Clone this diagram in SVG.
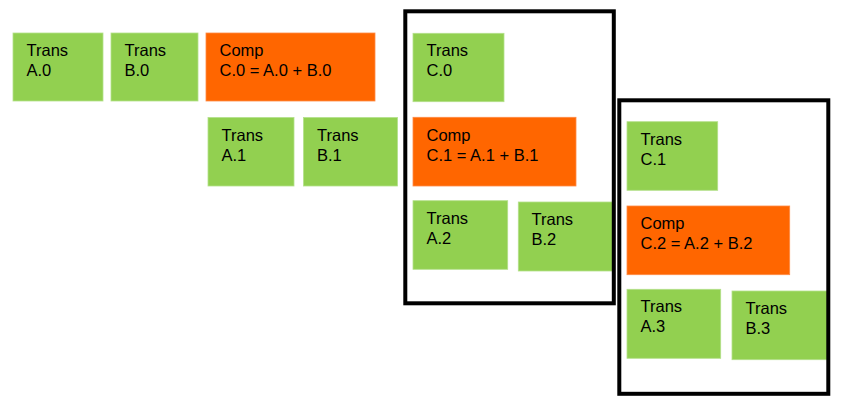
<svg xmlns="http://www.w3.org/2000/svg" width="842" height="405" viewBox="0 0 842 405">
<style>
.t{fill:#92D050;stroke:#B4E08A;stroke-width:0.8}
.c{fill:#FF6600;stroke:#FF8A45;stroke-width:0.8}
.f{fill:none;stroke:#000;stroke-width:4;stroke-linejoin:miter}
text{font-family:"Liberation Sans",Arial,sans-serif;font-size:16.5px;fill:#000}
</style>
<rect width="842" height="405" fill="#fff"/>
<g id="nodes">
<g id="transA0"><rect class="t" x="13" y="33" width="90" height="68"/><text x="26.5" y="56">Trans</text><text x="26.5" y="76">A.0</text></g>
<g id="transB0"><rect class="t" x="111" y="33" width="87" height="68"/><text x="124.5" y="56">Trans</text><text x="124.5" y="76">B.0</text></g>
<g id="compC0"><rect class="c" x="206" y="33" width="169" height="68"/><text x="219.5" y="56">Comp</text><text x="219.5" y="76">C.0 = A.0 + B.0</text></g>
<g id="transA1"><rect class="t" x="208" y="117.5" width="86" height="68.5"/><text x="221.5" y="140.5">Trans</text><text x="221.5" y="160.5">A.1</text></g>
<g id="transB1"><rect class="t" x="303.5" y="117.5" width="94" height="68.5"/><text x="317" y="140.5">Trans</text><text x="317" y="160.5">B.1</text></g>
<g id="transC0"><rect class="t" x="413" y="33.3" width="91" height="68.4"/><text x="426.5" y="56">Trans</text><text x="426.5" y="76">C.0</text></g>
<g id="compC1"><rect class="c" x="413" y="117.3" width="163" height="68.7"/><text x="426.5" y="140.5">Comp</text><text x="426.5" y="160.5">C.1 = A.1 + B.1</text></g>
<g id="transA2"><rect class="t" x="413" y="200.7" width="94.7" height="68.6"/><text x="426.5" y="223.5">Trans</text><text x="426.5" y="243.5">A.2</text></g>
<g id="transB2"><rect class="t" x="518.3" y="202" width="95.5" height="69"/><text x="531.5" y="225">Trans</text><text x="531.5" y="245">B.2</text></g>
<g id="transC1"><rect class="t" x="627" y="121.7" width="90.7" height="68.6"/><text x="640.5" y="144.5">Trans</text><text x="640.5" y="164.5">C.1</text></g>
<g id="compC2"><rect class="c" x="627" y="206" width="162.7" height="68.7"/><text x="640.5" y="229">Comp</text><text x="640.5" y="249">C.2 = A.2 + B.2</text></g>
<g id="transA3"><rect class="t" x="627" y="289.3" width="93.7" height="69"/><text x="640.5" y="312">Trans</text><text x="640.5" y="332">A.3</text></g>
<g id="transB3"><rect class="t" x="732" y="291" width="96" height="68.7"/><text x="745.5" y="314">Trans</text><text x="745.5" y="334">B.3</text></g>
<g id="frame1"><rect class="f" x="405.3" y="11.3" width="208.5" height="292"/></g>
<g id="frame2"><rect class="f" x="619.3" y="100.3" width="209" height="293.5"/></g>
</g>
<g id="connectors"></g>
</svg>
